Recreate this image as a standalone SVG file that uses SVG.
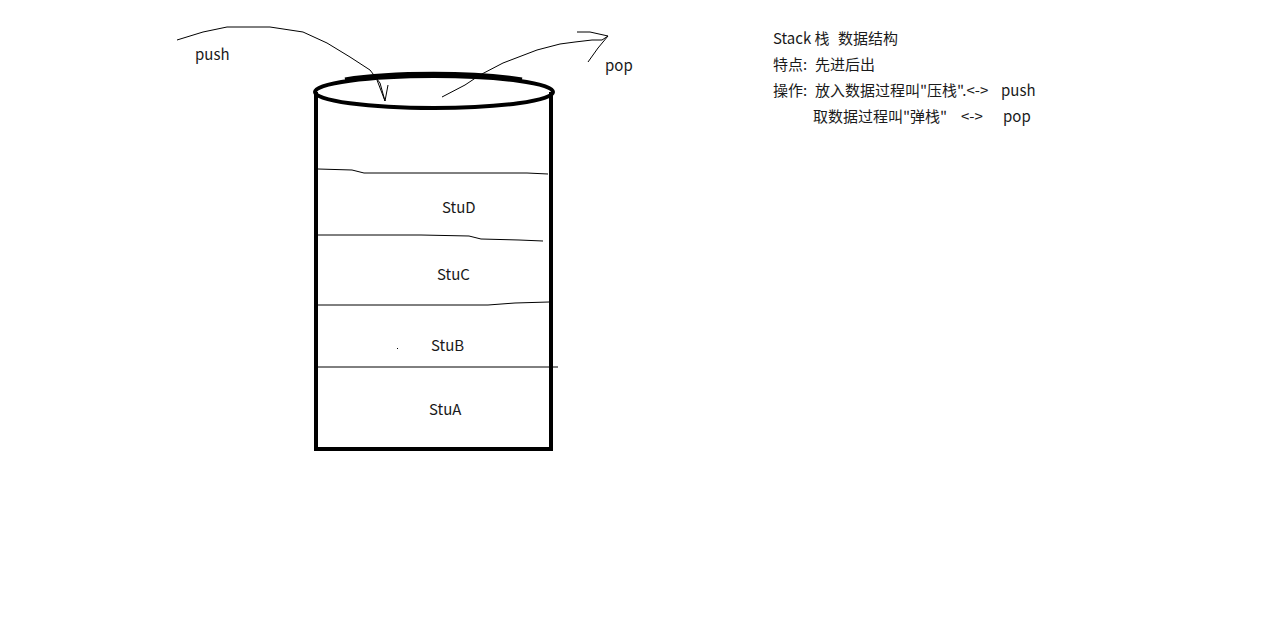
<svg xmlns="http://www.w3.org/2000/svg" width="1276" height="629" viewBox="0 0 1276 629">
<style>
text{font-family:"Noto Sans CJK SC","Noto Sans",sans-serif;font-size:15px;fill:#1a1a1a}
.thin{fill:none;stroke:#000;stroke-width:1}
.thick{fill:none;stroke:#000;stroke-width:4}
</style>
<rect width="1276" height="629" fill="#fff"/>
<g id="stack">
<path class="thick" d="M316 92 V449 H551 V92"/>
<ellipse class="thick" cx="434" cy="92" rx="119" ry="16"/>
<path class="thick" d="M345 79.5 A119 17 0 0 1 522 79.5"/>
</g>
<g id="dividers">
<path class="thin" d="M318 169 L352 170 L364 173 L527 173 L548 174"/>
<path class="thin" d="M318 235 L421 235 L469 236 L481 239 L519 240 L543 241"/>
<path class="thin" d="M318 305 L488 305 L515 303 L549 302"/>
<path class="thin" d="M318 367 L558 367"/>
<rect x="397" y="348" width="1" height="1" fill="#000"/>
</g>
<g id="connectors">
<path class="thin" d="M177 40 L203 32 L227 27 L270 27 L303 32 L327 43 L350 57 L370 70 L380 83 L385 101"/>
<path class="thin" d="M377 80 L385 101 L388 85"/>
<path class="thin" d="M442 97 L465 85 L480 75 L503 63 L537 50 L560 44 L575 42 L592 40 L602 40 L608 36 L598 48 L588 62"/>
<path class="thin" d="M577 32 L590 32 L608 36"/>
</g>
<g id="labels">
<text x="195" y="60">push</text>
<text x="605" y="71">pop</text>
<text x="442" y="213">StuD</text>
<text x="437" y="280">StuC</text>
<text x="431" y="351">StuB</text>
<text x="429" y="415">StuA</text>
</g>
<g id="notes">
<text x="773" y="44">Stack 栈<tspan x="838">数据结构</tspan></text>
<text x="773" y="70">特点:<tspan x="815">先进后出</tspan></text>
<text x="773" y="96">操作:<tspan x="815">放入数据过程叫"压栈".&lt;-&gt;</tspan><tspan x="1001">push</tspan></text>
<text x="813" y="122">取数据过程叫"弹栈"<tspan x="961">&lt;-&gt;</tspan><tspan x="1003">pop</tspan></text>
</g>
</svg>
